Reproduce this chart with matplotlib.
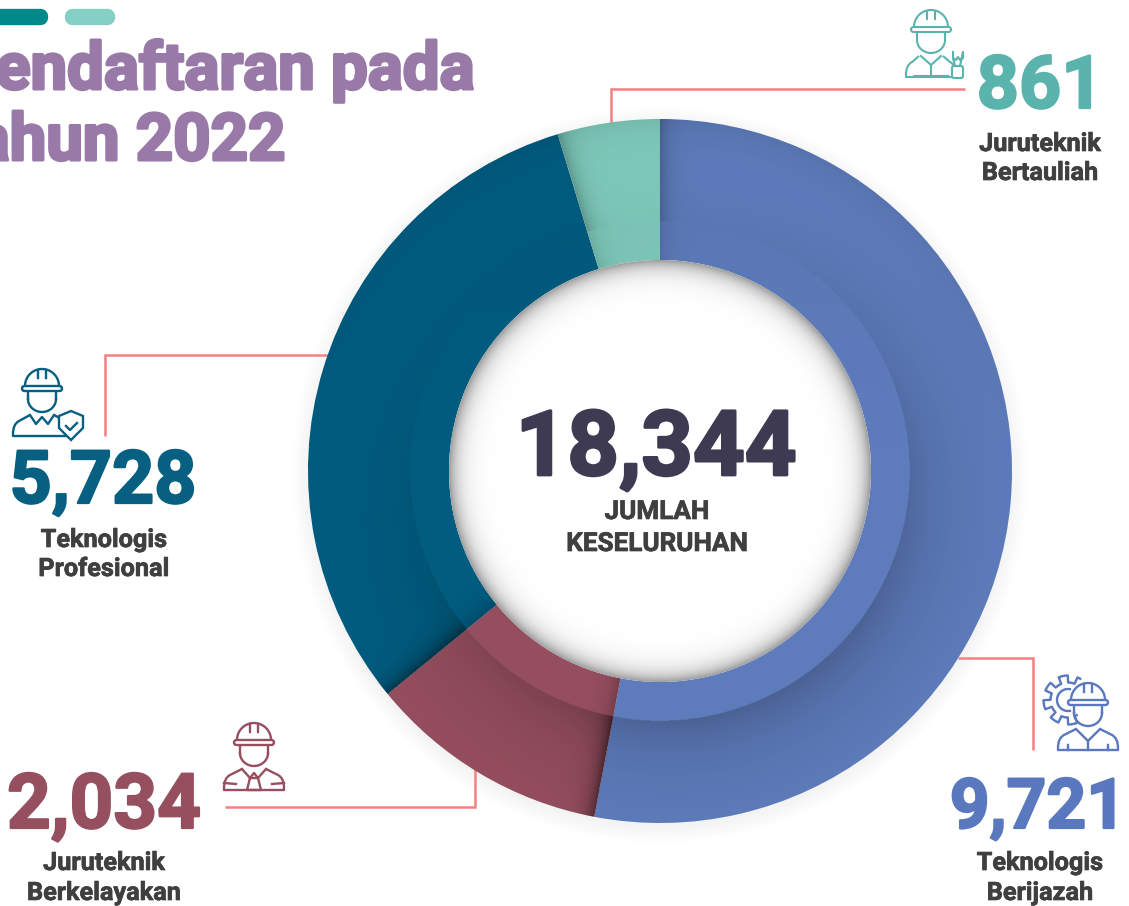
# donut of 2022 registrations
import numpy as np
import matplotlib
matplotlib.use("Agg")
import matplotlib.pyplot as plt
import matplotlib.patheffects as pe
from matplotlib.patches import Circle, FancyBboxPatch, PathPatch, Wedge
from matplotlib.path import Path

plt.rcParams["font.family"] = ["Roboto", "DejaVu Sans"]

categories = ["Teknologis\nBerijazah", "Juruteknik\nBerkelayakan", "Teknologis\nProfesional", "Juruteknik\nBertauliah"]
values = [9721, 2034, 5728, 861]
value_labels = ["9,721", "2,034", "5,728", "861"]
total_label = "18,344"
total_caption = ["JUMLAH", "KESELURUHAN"]
title_lines = ["Pendaftaran pada", "Tahun 2022"]
colors = ["#5E7CBC", "#954E5F", "#015C80", "#7ECABC"]
text_colors = ["#5A78BE", "#964F5E", "#075F82", "#5BB3AE"]

W, H = 1129, 906
LINE = "#F67F82"
CX, CY, R_OUT, R_BAND, R_IN = 660, 471, 352, 250, 211

fig = plt.figure(figsize=(W / 100, H / 100), dpi=100, facecolor="white")

def px_axes(z):
    a = fig.add_axes([0, 0, 1, 1], zorder=z)
    a.set_xlim(0, W)
    a.set_ylim(H, 0)
    a.axis("off")
    a.patch.set_alpha(0)
    return a

bg = px_axes(0)
fg = px_axes(2)

# faint shadow round the donut
for i in range(12):
    bg.add_patch(Circle((CX, CY + 4), R_OUT + 16 - i * 1.5, color="black", alpha=0.004, lw=0))

# leader lines
leaders = [
    ([958, 1033, 1033], [658, 658, 750]),
    ([225, 475, 475], [807, 807, 760]),
    ([105, 105, 335], [436, 355, 355]),
    ([611, 611, 965], [130, 89, 89]),
]
for xs, ys in leaders:
    bg.plot(xs, ys, color=LINE, lw=1.8, solid_joinstyle="miter", solid_capstyle="butt")

# donut
ax = fig.add_axes([(CX - R_OUT) / W, (H - CY - R_OUT) / H, 2 * R_OUT / W, 2 * R_OUT / H], zorder=1)
ax.patch.set_alpha(0)
wedges, _ = ax.pie(values, colors=colors, startangle=90, counterclock=False, radius=1,
                   wedgeprops=dict(width=1 - R_IN / R_OUT, linewidth=0))
ax.set_aspect("auto")

# shading over the ring, boundaries come from the values
n = 1000
gx, gy = np.meshgrid(np.linspace(-1, 1, n), np.linspace(-1, 1, n))
rr = np.hypot(gx, gy) * R_OUT
tt = np.degrees(np.arctan2(gx, gy)) % 360
unit = np.maximum(np.hypot(gx, gy), 1e-6)
# band casts a shadow outward, mostly to the lower right
toward = np.clip(0.5 + 0.5 * (0.45 * gx - 0.89 * gy) / unit, 0, 1) ** 1.4
dark = (0.03 + 0.19 * toward) * np.exp(-np.clip(rr - R_BAND, 0, None) / 42) * (rr >= R_BAND)
# top: rim and band a little darker
dark += 0.08 * np.exp(-(R_OUT - rr) / 18) * np.clip(gy, 0, 1)
dark += 0.05 * (rr < R_BAND) * np.clip(gy, 0, 1)
edges = np.r_[0, np.cumsum(values)[:3]] / np.sum(values) * 360
for b, strength in zip(edges, [0.22, 0.45, 0.42, 0.24]):
    d = (tt - b) % 360
    px = rr * np.radians(d)
    fade = np.where(rr < R_BAND, 0.5, 1.0)
    dark += strength * fade * np.exp(-px / 9) * (d < 60)
rgba = np.zeros((n, n, 4))
rgba[..., 3] = np.clip(dark, 0, 0.65)
im = ax.imshow(rgba, extent=(-1, 1, -1, 1), origin="lower", zorder=3, aspect="auto", interpolation="bilinear")
im.set_clip_path(Wedge((0, 0), 1, 0, 360, width=1 - R_IN / R_OUT, transform=ax.transData))
ax.set_xlim(-1, 1)
ax.set_ylim(-1, 1)
ax.axis("off")

# white hole with a grey soft edge inside it
disc = Circle((CX, CY), R_IN, color="white", lw=0)
fg.add_patch(disc)
m = 500
ix, iy = np.meshgrid(np.linspace(CX - R_IN, CX + R_IN, m), np.linspace(CY - R_IN, CY + R_IN, m))
ir = np.hypot(ix - CX, iy - CY)
soft = np.zeros((m, m, 4))
soft[..., 3] = 0.38 * np.exp(-np.clip(R_IN - ir, 0, None) / 10)
sh = fg.imshow(soft, extent=(CX - R_IN, CX + R_IN, CY + R_IN, CY - R_IN), aspect="auto", zorder=1.5)
sh.set_clip_path(Circle((CX, CY), R_IN, transform=fg.transData))
fg.set_xlim(0, W)
fg.set_ylim(H, 0)

# top pills
fg.add_patch(FancyBboxPatch((-30, 13), 74, 8, boxstyle="round,pad=0,rounding_size=4",
                            fc="#00898A", ec="#00898A", lw=6))
fg.add_patch(FancyBboxPatch((69, 13), 42, 8, boxstyle="round,pad=0,rounding_size=4",
                            fc="#85D0C4", ec="#85D0C4", lw=6))

def heavy(w, col):
    return [pe.withStroke(linewidth=w, foreground=col)]

# title runs off the left edge as in the source
for line, tx, ty in zip(title_lines, [474, 285], [89, 160]):
    fg.text(tx, ty, line, ha="right", va="baseline", fontsize=47, fontweight="bold", color="#9879A7",
            path_effects=heavy(2.2, "#9879A7"))

# numbers and labels
num_pos = [(1038, 828, 50), (104, 828, 55), (103, 503, 53), (1040, 108, 53)]
lab_pos = [(1040, 870, 900), (104, 870, 900), (104, 547, 576), (1040, 151, 180)]
DARK = "#3F3F3F"
for lab, val, col, (nx, ny, ns), (lx, l1, l2) in zip(categories, value_labels, text_colors, num_pos, lab_pos):
    fg.text(nx, ny, val, ha="center", va="baseline", fontsize=ns, fontweight="bold", color=col,
            path_effects=heavy(1.6, col))
    a, b = lab.split("\n")
    for t, yy in zip((a, b), (l1, l2)):
        fg.text(lx, yy, t, ha="center", va="baseline", fontsize=18.2, fontweight="bold", color=DARK,
                path_effects=heavy(0.5, DARK))

fg.text(656, 475, total_label, ha="center", va="baseline", fontsize=65, fontweight="bold", color="#3E3A52",
        path_effects=heavy(2.0, "#3E3A52"))
for t, yy in zip(total_caption, [519, 551]):
    fg.text(657, yy, t, ha="center", va="baseline", fontsize=18.8, fontweight="bold", color=DARK,
            path_effects=heavy(0.5, DARK))

# icons, simple line drawings
def arc(cx, cy, rx, ry, a0, a1, k=40):
    t = np.radians(np.linspace(a0, a1, k))
    return cx + rx * np.cos(t), cy - ry * np.sin(t)

def worker(cx, top, half_w, col, lw=1.7):
    brim = top + 20
    hr = 17
    x, y = arc(cx, brim - 3, hr, 17, 0, 180)
    fg.plot(x, y, color=col, lw=lw)
    fg.add_patch(FancyBboxPatch((cx - hr - 3, brim - 3), 2 * hr + 6, 5, boxstyle="round,pad=0,rounding_size=2.5",
                                fc="white", ec=col, lw=lw, zorder=3))
    fg.plot([cx - 4, cx - 4], [top + 1, top + 9], color=col, lw=lw)
    fg.plot([cx + 4, cx + 4], [top + 1, top + 9], color=col, lw=lw)
    # face
    x, y = arc(cx, brim + 10, 14, 13, 180, 360)
    fg.plot(x, y, color=col, lw=lw)
    fg.plot([cx - 14, cx - 14], [brim + 3, brim + 10], color=col, lw=lw)
    fg.plot([cx + 14, cx + 14], [brim + 3, brim + 10], color=col, lw=lw)
    # body with rounded shoulders
    sh_y = brim + 26
    low = top + 67
    verts = [(cx - 12, sh_y), (cx - half_w + 6, sh_y + 6), (cx - half_w, sh_y + 9), (cx - half_w, sh_y + 19),
             (cx - half_w, low), (cx + half_w, low), (cx + half_w, sh_y + 19), (cx + half_w, sh_y + 9),
             (cx + half_w - 6, sh_y + 6), (cx + 12, sh_y)]
    codes = [Path.MOVETO, Path.LINETO, Path.CURVE3, Path.CURVE3, Path.LINETO,
             Path.LINETO, Path.LINETO, Path.CURVE3, Path.CURVE3, Path.LINETO]
    fg.add_patch(PathPatch(Path(verts, codes), fc="none", ec=col, lw=lw, joinstyle="round"))
    return sh_y, low

# Teknologis Berijazah: gear behind, vest lines
c = text_colors[0]
ang = np.radians(np.linspace(60, 300, 300))
gr = 21 + 3.5 * np.sign(np.sin(8 * ang))
fg.plot(1068 + gr * np.cos(ang), 700 - gr * np.sin(ang), color=c, lw=1.7)
x, y = arc(1068, 700, 11, 11, 80, 280)
fg.plot(x, y, color=c, lw=1.7)
sh_y, low = worker(1088, 683, 30, c)
fg.plot([1076, 1088, 1100], [sh_y, sh_y + 12, sh_y], color=c, lw=1.7)
fg.plot([1088, 1088], [sh_y + 12, low], color=c, lw=1.7)
fg.plot([1068, 1068], [sh_y + 16, low], color=c, lw=1.7)
fg.plot([1108, 1108], [sh_y + 16, low], color=c, lw=1.7)

# Juruteknik Berkelayakan: shirt and tie
c = text_colors[1]
sh_y, low = worker(254, 723, 30, c)
fg.plot([242, 250, 254, 258, 266], [sh_y, sh_y + 9, sh_y + 4, sh_y + 9, sh_y], color=c, lw=1.7)
fg.plot([250, 247, 261, 258, 250], [sh_y + 9, low, low, sh_y + 9, sh_y + 9], color=c, lw=1.7)
fg.plot([224, 236], [low - 7, low - 6], color=c, lw=1.7)
fg.plot([284, 272], [low - 7, low - 6], color=c, lw=1.7)

# Teknologis Profesional: polo collar and shield
c = text_colors[2]
sh_y, low = worker(42, 369, 29, c)
fg.plot([30, 36, 42, 48, 54], [sh_y, sh_y + 9, sh_y + 2, sh_y + 9, sh_y], color=c, lw=1.7)
sx = [59, 71, 83, 83, 71, 59, 59]
sy = [416, 411, 416, 428, 440, 428, 416]
fg.fill(sx, sy, fc="white", ec=c, lw=1.7, zorder=4)
fg.plot([66, 70, 77], [426, 430, 423], color=c, lw=1.7, zorder=5)

# Juruteknik Bertauliah: overalls and spanner
c = text_colors[3]
sh_y, low = worker(931, 10, 25, c, lw=1.5)
fg.plot([921, 931, 941], [sh_y, sh_y + 9, sh_y], color=c, lw=1.5)
fg.plot([931, 931], [sh_y + 9, low], color=c, lw=1.5)
fg.plot([914, 914, 948], [low, sh_y + 20, sh_y + 20], color=c, lw=1.5)
fg.add_patch(FancyBboxPatch((952, 66), 11, 12, boxstyle="round,pad=0,rounding_size=2", fc="white", ec=c, lw=1.5))
fg.plot([953, 953, 956, 958, 960, 963, 963, 960, 955, 953],
        [52, 58, 60, 57, 60, 58, 52, 66, 66, 58], color=c, lw=1.5)

fig.savefig("out.png", dpi=100)
